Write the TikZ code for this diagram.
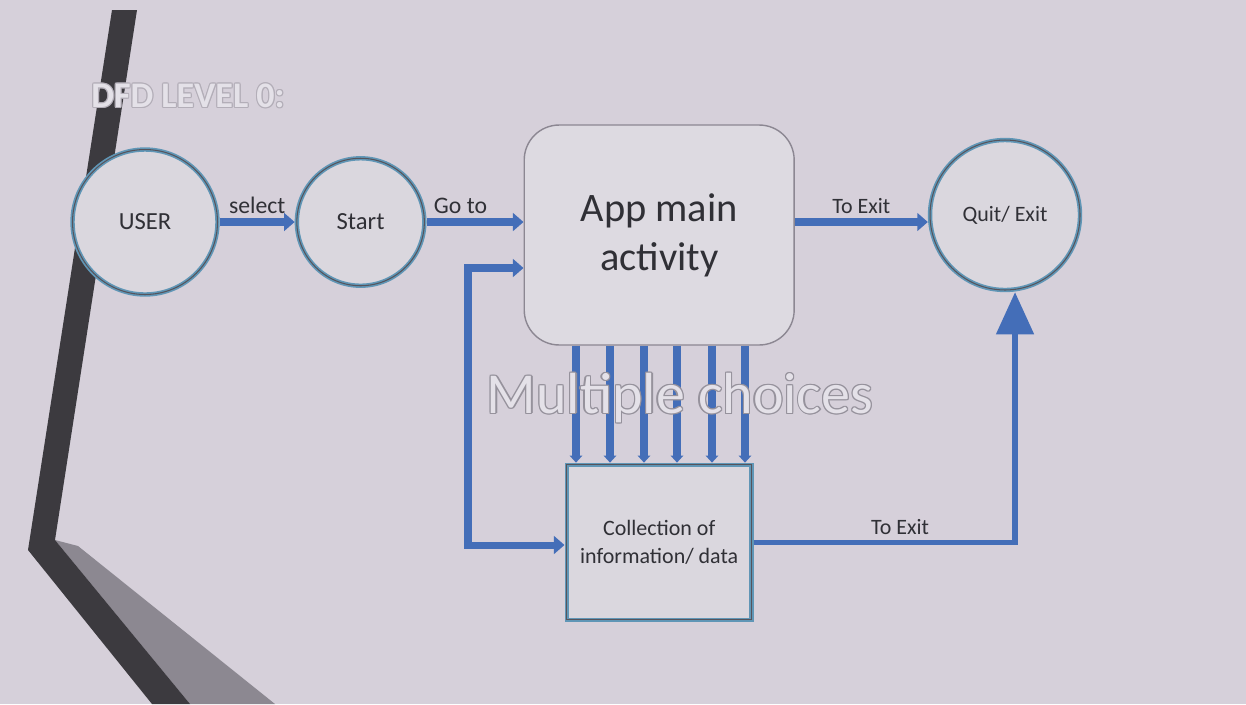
\documentclass[tikz,border=0pt]{standalone}
\usepackage{fontspec}
\setmainfont{Carlito}
\usetikzlibrary{positioning}
\usetikzlibrary{calc}
\usetikzlibrary{arrows.meta}
\definecolor{slide}{RGB}{214,208,218}
\definecolor{flow}{RGB}{68,110,184}
\definecolor{glow}{RGB}{96,150,182}
\definecolor{edge}{RGB}{86,84,92}
\definecolor{nodefill}{RGB}{218,215,222}
\definecolor{boxfill}{RGB}{221,218,225}
\definecolor{boxedge}{RGB}{140,135,146}
\definecolor{ink}{RGB}{48,48,54}
\definecolor{bar}{RGB}{60,58,63}
\definecolor{bevel}{RGB}{140,136,145}
\definecolor{ghostfill}{RGB}{228,225,232}
\definecolor{ghostedge}{RGB}{150,146,156}

\begin{document}
\begin{tikzpicture}[x=0.02cm, y=-0.02cm,
		process/.style={circle, fill=nodefill, draw=glow, line width=2.5pt, postaction={draw=edge, line width=0.6pt}, text=ink, inner sep=0pt},
		activity/.style={rectangle, rounded corners=0.7cm, fill=boxfill, draw=boxedge, line width=0.8pt, text=ink, align=center, minimum width=5.4cm, minimum height=4.4cm, font=\fontsize{23}{28}\selectfont},
		store/.style={rectangle, fill=nodefill, draw=glow, line width=2.5pt, postaction={draw=edge, line width=0.6pt}, text=ink, align=center, minimum width=3.7cm, minimum height=3.1cm, font=\fontsize{12.5}{16}\selectfont},
		flowarrow/.style={draw=flow, line width=4pt, -{Triangle[length=6pt,width=10pt]}},
		choice/.style={draw=flow, line width=4.5pt, -{Triangle[length=4pt,width=7pt]}},
		exitarrow/.style={draw=flow, line width=3pt, -{Triangle[length=24pt,width=21pt]}},
		flowlabel/.style={text=ink, font=\fontsize{13.5}{16}\selectfont, inner sep=3pt}
	]
		\fill[slide] (0,0) rectangle (1246,704);
		\useasboundingbox (0,0) rectangle (1246,704);

		% slide decoration
		\fill[bevel] (55,540) -- (78,546) -- (275,704) -- (190,704) -- cycle;
		\fill[bar] (112,10) -- (137,10) -- (55,540) -- (190,704) -- (152,704) -- (28,550) -- cycle;

		% title
		\foreach \dx/\dy in {-1.2/0,1.2/0,0/-1.2,0/1.2,-0.8/-0.8,0.8/0.8,-0.8/0.8,0.8/-0.8}
			\node[text=ghostedge!55!slide, font=\bfseries\fontsize{20.5}{24}\selectfont] at ($(188,96)+(\dx,\dy)$) {DFD LEVEL 0:};
		\node[text=ghostfill, font=\bfseries\fontsize{20.5}{24}\selectfont] (title) at (188,96) {DFD LEVEL 0:};

		% processes
		\node[process, minimum size=2.9cm, font=\fontsize{14}{16}\selectfont] (user) at (145,222) {USER};
		\node[process, minimum size=2.55cm, font=\fontsize{14}{16}\selectfont, right=1.5cm of user] (start) {Start};
		\node[activity, right=1.94cm of start, yshift=-0.26cm] (app) {App main\\activity};
		\node[process, minimum size=3.0cm, font=\fontsize{12.5}{15}\selectfont, right=2.66cm of app, yshift=0.4cm] (quit) {Quit/ Exit};
		\node[store, below=2.34cm of app] (coll) {Collection of\\information/ data};

		\draw[flowarrow] (user.east) -- node[flowlabel, above] {select} (start.west);
		\draw[flowarrow] (start.east) -- node[flowlabel, above, pos=0.35] {Go to} (start.east -| app.west);
		\draw[flowarrow] ([yshift=-0.14cm]quit.west -| app.east) -- node[flowlabel, above, font=\fontsize{12.5}{15}\selectfont] {To Exit} ([yshift=-0.14cm]quit.west);

		% loop back
		\coordinate (loopcorner) at (468,545);
		\draw[draw=flow, line width=4pt, {Triangle[length=6pt,width=10pt]}-{Triangle[length=6pt,width=10pt]}] ([yshift=-0.66cm]app.west) -| (loopcorner) -- (loopcorner -| coll.west);

		% exit from collection
		\draw[exitarrow] (coll.east) -| node[flowlabel, above, pos=0.28, font=\fontsize{12.5}{15}\selectfont] {To Exit} ([xshift=0.2cm]quit.south);

		% choices
		\foreach \x in {576,610,644,677,712,745}
			\draw[choice] (app.south -| \x,0) -- (coll.north -| \x,0);

		\foreach \dx/\dy in {-1.3/0,1.3/0,0/-1.3,0/1.3,-0.9/-0.9,0.9/0.9,-0.9/0.9,0.9/-0.9}
			\node[text=ghostedge, font=\fontsize{33}{38}\selectfont] at ($(680,398)+(\dx,\dy)$) {Multiple choices};
		\node[text=ghostfill, font=\fontsize{33}{38}\selectfont] (choices) at (680,398) {Multiple choices};
	\end{tikzpicture}
\end{document}
